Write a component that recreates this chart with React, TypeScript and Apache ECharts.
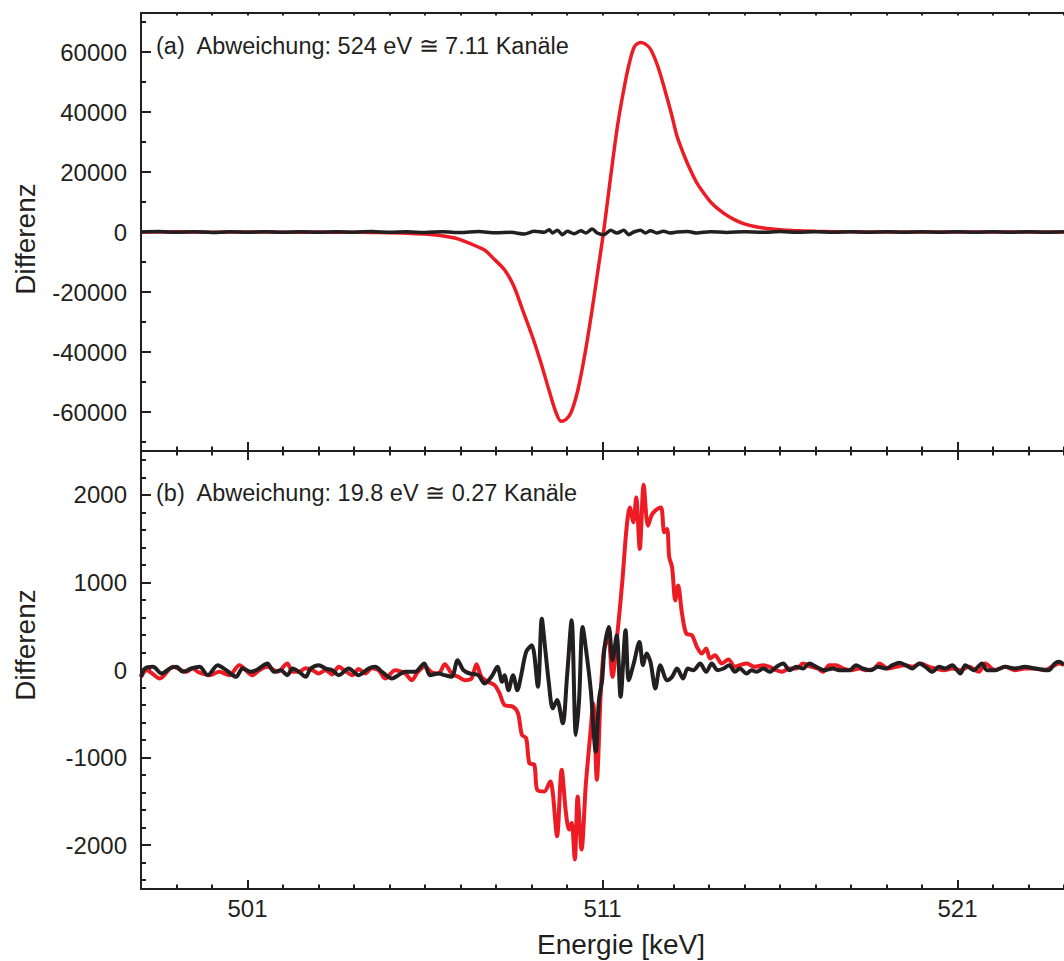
import React, { useEffect, useRef } from "react";
import * as echarts from "echarts";

// ---------- data ----------
const X_MIN = 498;
const X_MAX = 524;
const X_MAJOR = [501, 511, 521];

const TOP_Y_MAJOR = [-60000, -40000, -20000, 0, 20000, 40000, 60000];
const TOP_Y_MINOR = [-70000, -50000, -30000, -10000, 10000, 30000, 50000, 70000];
const BOT_Y_MAJOR = [-2000, -1000, 0, 1000, 2000];
const BOT_Y_MINOR = [-2400, -2200, -1800, -1600, -1400, -1200, -800, -600, -400, -200, 200, 400, 600, 800, 1200, 1400, 1600, 1800, 2200, 2400];

const LABEL_A = "(a)  Abweichung: 524 eV \u2245 7.11 Kanäle";
const LABEL_B = "(b)  Abweichung: 19.8 eV \u2245 0.27 Kanäle";
const Y_NAME = "Differenz";
const X_NAME = "Energie [keV]";

// panel (a): red difference
const E_TOP_RED = [498, 499, 500, 501, 502, 503, 503.5, 504, 504.5, 505, 505.5, 506, 506.3, 506.6, 506.84, 507.12, 507.5, 507.7, 507.96, 508.24, 508.5, 508.75, 509.0, 509.25, 509.5, 509.7, 509.83, 509.97, 510.11, 510.3, 510.5, 510.7, 510.86, 511.03, 511.23, 511.42, 511.6, 511.75, 511.9, 512.07, 512.2, 512.35, 512.55, 512.73, 512.95, 513.1, 513.3, 513.47, 513.65, 513.85, 514.1, 514.41, 514.7, 514.97, 515.25, 515.53, 516, 516.37, 517, 517.5, 518, 519, 520, 521, 522, 523, 524];
const V_TOP_RED = [0, 50, -50, 30, -60, -30, -80, -100, -150, -250, -400, -700, -1000, -1500, -2000, -3100, -5000, -6200, -9200, -12600, -18000, -26000, -34000, -43000, -53000, -60500, -63100, -62500, -60300, -53000, -41000, -26500, -13700, 0, 18500, 35200, 47500, 56000, 61800, 63200, 62700, 61000, 55500, 48500, 39000, 31900, 25500, 20800, 16500, 13000, 9300, 6300, 4200, 2800, 1900, 1300, 750, 500, 250, 100, 50, -30, 40, -20, 30, -30, 0];

// panel (a): black difference
const E_TOP_BLACK = [498, 498.5, 499, 499.5, 500, 500.5, 501, 501.5, 502, 502.5, 503, 503.5, 504, 504.5, 505, 505.5, 506, 506.5, 507, 507.5, 508, 508.42, 508.8, 509.08, 509.36, 509.5, 509.59, 509.73, 509.87, 510.01, 510.2, 510.39, 510.53, 510.71, 510.85, 511.04, 511.23, 511.41, 511.6, 511.74, 511.88, 512.07, 512.21, 512.35, 512.53, 512.72, 512.91, 513.09, 513.4, 513.65, 514.03, 514.5, 515, 515.5, 516, 516.5, 517, 517.5, 518, 518.5, 519, 519.5, 520, 520.5, 521, 521.5, 522, 522.5, 523, 523.5, 524];
const V_TOP_BLACK = [0, 150, -100, 100, -150, 50, -100, 120, -50, 100, -120, 80, -60, 150, -100, 60, -150, 100, -200, 150, -250, -111, -670, 220, -111, 780, -333, 555, -890, 220, -555, 444, -333, 1000, -333, -890, 555, -333, 555, -890, 0, 555, -333, 444, -333, 220, -333, 0, 200, -333, 111, -150, 100, -100, 150, -80, 100, -120, 60, -100, 120, -60, 100, -100, 80, -120, 100, -80, 120, -100, 50];

// panel (b): red difference
const E_BOT_RED = [498.0, 498.16, 498.53, 498.9, 499.28, 499.45, 499.6, 499.93, 500.21, 500.49, 500.77, 501.14, 501.33, 501.56, 501.85, 502.12, 502.27, 502.45, 502.64, 502.83, 503.0, 503.2, 503.38, 503.57, 503.75, 503.95, 504.13, 504.32, 504.5, 504.69, 504.88, 505.16, 505.44, 505.63, 505.8, 506.0, 506.2,
  506.38, 506.56, 506.75, 506.94, 507.12, 507.31, 507.45, 507.59, 507.78, 507.96, 508.1, 508.24, 508.48, 508.62, 508.73, 508.85, 508.94, 509.08, 509.16, 509.36, 509.53, 509.6, 509.72, 509.85, 509.97, 510.06, 510.13, 510.22, 510.3, 510.41, 510.53, 510.65, 510.74, 510.84, 510.95, 511.04, 511.16, 511.28, 511.42, 511.56, 511.68, 511.77, 511.87, 511.95, 512.05, 512.16, 512.28, 512.4, 512.54, 512.65, 512.74, 512.82, 512.88, 512.96, 513.05, 513.13, 513.24, 513.36, 513.52, 513.66, 513.8, 513.92, 514.03, 514.17, 514.36, 514.55, 514.73,
  514.87, 515.06, 515.29, 515.53, 515.71, 515.9, 516.04, 516.27, 516.46, 516.65, 516.88, 517.07, 517.21, 517.39, 517.58, 517.77, 518.0, 518.24, 518.42, 518.66, 518.8, 519.03, 519.26, 519.5, 519.73, 519.96, 520.2, 520.38, 520.62, 520.85, 521.08, 521.32, 521.6, 521.78, 522.06, 522.34, 522.62, 522.9, 523.18, 523.46, 523.65, 523.86, 524.0];
const V_BOT_RED = [-78, -2, -97, 36, -21, 20, -21, -59, -21, -59, 55, -59, -2, 36, -20, 74, -21, -21, 20, -2, -40, -2, -50, 36, -10, -59, 10, -40, 20, -2, -97, -2, -40, -116, -20, 36, -30,
  -40, 66, -40, -78, -116, -97, 66, -78, -135, -173, -267, -400, -419, -495, -741, -779, -1064, -1083, -1367, -1386, -1272, -1405, -1898, -1140, -1632, -1822, -1746, -2163, -1443, -2050, -1310, -760, -381, -1253, -267, 226, 377, -78, 415, 1022, 1629, 1856, 1686, 1970, 1382, 2114, 1648, 1780, 1837, 1856, 1572, 1610, 1287, 1174, 794, 965, 643, 415, 396, 263, 188, 245, 131, 169, 74, 120, 36,
  55, 74, 36, 55, 36, -2, -21, 17, 17, 74, 36, 17, -21, 55, 55, 17, -2, 17, -2, 17, 74, 17, 36, 55, 36, 74, 36, 17, -2, 17, -2, 36, -21, 74, -2, 36, -2, 17, 17, -2, 36, 74, 60];

// panel (b): black difference
const E_BOT_BLACK = [498.0, 498.11, 498.34, 498.58, 498.81, 499.0, 499.18, 499.42, 499.65, 499.88, 500.16, 500.4, 500.68, 500.86, 501.1, 501.28, 501.56, 501.75, 501.94, 502.12, 502.27, 502.45, 502.64, 502.78, 503.01, 503.2, 503.39, 503.57, 503.85, 504.13, 504.41, 504.6, 504.79, 505.07, 505.25, 505.44, 505.72, 505.98, 506.14,
  506.38, 506.56, 506.75, 506.92, 507.08, 507.26, 507.5, 507.68, 507.87, 508.04, 508.17, 508.24, 508.35, 508.48, 508.6, 508.71, 508.85, 509.01, 509.18, 509.29, 509.38, 509.48, 509.6, 509.72, 509.88, 510.0, 510.13, 510.25, 510.34, 510.44, 510.55, 510.67, 510.81, 510.9, 510.99, 511.06, 511.18, 511.28, 511.4, 511.51, 511.65, 511.74, 511.88, 512.04, 512.14, 512.24, 512.35, 512.49, 512.63, 512.82, 512.96, 513.1, 513.27, 513.4, 513.56, 513.75, 513.92, 514.08, 514.24, 514.41, 514.57, 514.73,
  514.87, 515.06, 515.2, 515.34, 515.53, 515.71, 515.9, 516.09, 516.27, 516.46, 516.65, 516.83, 517.02, 517.25, 517.49, 517.67, 517.96, 518.14, 518.33, 518.56, 518.75, 518.98, 519.17, 519.36, 519.54, 519.73, 519.92, 520.1, 520.29, 520.48, 520.66, 520.85, 521.08, 521.22, 521.46, 521.69, 521.83, 522.06, 522.34, 522.62, 522.9, 523.18, 523.56, 523.74, 523.86, 524.0];
const V_BOT_BLACK = [-78, 17, 36, -40, 17, 36, -21, 17, 36, -59, 55, -2, -78, 17, -21, 5, 74, -21, -2, -59, 17, -21, -78, 17, 55, 17, -2, -59, 17, -59, 17, 36, -21, -97, -59, -21, -21, 74, -59,
  -40, -59, -78, 112, -2, -40, -59, -154, -78, 36, -135, -59, -230, -59, -230, -59, 207, 283, -192, 586, 264, -116, -438, -343, -609, -78, 567, -741, -343, 491, 188, -230, -931, -343, -116, 264, 491, 112, 396, -306, 453, -116, 74, 321, 55, 188, 93, -211, 55, -116, -78, 17, -97, 17, -2, 74, -21, 74, -2, 17, 55, -21,
  17, -40, -2, -21, 17, -21, 36, 74, -2, 36, 17, 74, 36, -2, 17, -2, -2, 55, 17, -2, 36, 17, 55, 82, 55, 17, 74, 36, -21, 36, 17, 55, -40, 55, -2, 74, -2, -2, 36, 17, 36, 17, -2, 74, 93, 60];

// ---------- styling ----------
const RED = "#ed1c24";
const INK = "#231f20";
const FONT = "'Liberation Sans', Arial, Helvetica, sans-serif";

const zip = (xs: number[], ys: number[]) => xs.map((x, i) => [x, ys[i]]);

function xAxisDef(gridIndex: number, position: "top" | "bottom", opts: any) {
  return {
    type: "value",
    gridIndex,
    position,
    min: X_MIN,
    max: X_MAX,
    axisLine: { show: !!opts.line, onZero: false, lineStyle: { color: INK, width: 2 } },
    axisTick: {
      show: true,
      inside: true,
      length: opts.tickLen,
      lineStyle: { color: INK, width: 2 },
      ...(opts.major ? { customValues: X_MAJOR } : {}),
    },
    ...(opts.major ? {} : { interval: 1 }),
    axisLabel: opts.labels
      ? {
          show: true,
          customValues: X_MAJOR,
          formatter: (v: number) => String(v),
          color: INK,
          fontSize: 24,
          fontFamily: FONT,
          margin: 7,
        }
      : { show: false },
    splitLine: { show: false },
  };
}

function yAxisDef(gridIndex: number, min: number, max: number, values: number[], major: boolean) {
  return {
    type: "value",
    gridIndex,
    position: "left",
    min,
    max,
    axisLine: { show: major, onZero: false, lineStyle: { color: INK, width: 2 } },
    axisTick: {
      show: true,
      inside: true,
      length: major ? 10 : 5,
      customValues: values,
      lineStyle: { color: INK, width: 2 },
    },
    axisLabel: major
      ? {
          show: true,
          customValues: values,
          formatter: (v: number) => String(v),
          color: INK,
          fontSize: 24,
          fontFamily: FONT,
          margin: 14,
        }
      : { show: false },
    splitLine: { show: false },
  };
}

export default function App() {
  const ref = useRef<HTMLDivElement>(null);

  useEffect(() => {
    if (!ref.current) return;
    const chart = echarts.init(ref.current, undefined, { renderer: "svg" });

    const textStyle = (size: number) => ({
      fill: INK,
      font: `${size}px ${FONT}`,
    });

    chart.setOption({
      animation: false,
      backgroundColor: "#ffffff",
      grid: [
        { left: 141, top: 13, width: 928, height: 438 },
        { left: 141, top: 451, width: 928, height: 438 },
      ],
      xAxis: [
        xAxisDef(0, "bottom", { line: true, major: true, tickLen: 9 }), // 0 (series a)
        xAxisDef(0, "bottom", { line: false, major: false, tickLen: 4.5 }), // 1
        xAxisDef(0, "top", { line: true, major: false, tickLen: 2.5 }), // 2
        xAxisDef(1, "bottom", { line: true, major: true, tickLen: 9, labels: true }), // 3 (series b)
        xAxisDef(1, "bottom", { line: false, major: false, tickLen: 4.5 }), // 4
        xAxisDef(1, "top", { line: true, major: true, tickLen: 9 }), // 5
        xAxisDef(1, "top", { line: false, major: false, tickLen: 4.5 }), // 6
      ],
      yAxis: [
        yAxisDef(0, -73000, 73000, TOP_Y_MAJOR, true),
        yAxisDef(0, -73000, 73000, TOP_Y_MINOR, false),
        yAxisDef(1, -2500, 2500, BOT_Y_MAJOR, true),
        yAxisDef(1, -2500, 2500, BOT_Y_MINOR, false),
      ],
      series: [
        {
          type: "line",
          xAxisIndex: 0,
          yAxisIndex: 0,
          data: zip(E_TOP_RED, V_TOP_RED),
          showSymbol: false,
          smooth: 0.3,
          lineStyle: { color: RED, width: 3.5 },
          z: 2,
        },
        {
          type: "line",
          xAxisIndex: 0,
          yAxisIndex: 0,
          data: zip(E_TOP_BLACK, V_TOP_BLACK),
          showSymbol: false,
          smooth: 0.3,
          lineStyle: { color: INK, width: 3.5 },
          z: 3,
        },
        {
          type: "line",
          xAxisIndex: 3,
          yAxisIndex: 2,
          data: zip(E_BOT_RED, V_BOT_RED),
          showSymbol: false,
          smooth: 0.3,
          lineStyle: { color: RED, width: 4 },
          z: 2,
        },
        {
          type: "line",
          xAxisIndex: 3,
          yAxisIndex: 2,
          data: zip(E_BOT_BLACK, V_BOT_BLACK),
          showSymbol: false,
          smooth: 0.3,
          lineStyle: { color: INK, width: 4 },
          z: 3,
        },
      ],
      graphic: [
        {
          type: "text",
          x: 156,
          y: 46,
          style: { ...textStyle(23.5), text: LABEL_A, align: "left", verticalAlign: "middle", textAlign: "left", textVerticalAlign: "middle" },
        },
        {
          type: "text",
          x: 156,
          y: 493,
          style: { ...textStyle(23.5), text: LABEL_B, align: "left", verticalAlign: "middle", textAlign: "left", textVerticalAlign: "middle" },
        },
        {
          type: "text",
          x: 25,
          y: 239,
          rotation: Math.PI / 2,
          style: { ...textStyle(28), text: Y_NAME, align: "center", verticalAlign: "middle", textAlign: "center", textVerticalAlign: "middle" },
        },
        {
          type: "text",
          x: 25,
          y: 645,
          rotation: Math.PI / 2,
          style: { ...textStyle(28), text: Y_NAME, align: "center", verticalAlign: "middle", textAlign: "center", textVerticalAlign: "middle" },
        },
        {
          type: "text",
          x: 621,
          y: 944,
          style: { ...textStyle(28), text: X_NAME, align: "center", verticalAlign: "middle", textAlign: "center", textVerticalAlign: "middle" },
        },
      ],
    });

    return () => chart.dispose();
  }, []);

  return (
    <div
      ref={ref}
      style={{ position: "fixed", left: 0, top: 0, width: 1064, height: 961, background: "#fff" }}
    />
  );
}
